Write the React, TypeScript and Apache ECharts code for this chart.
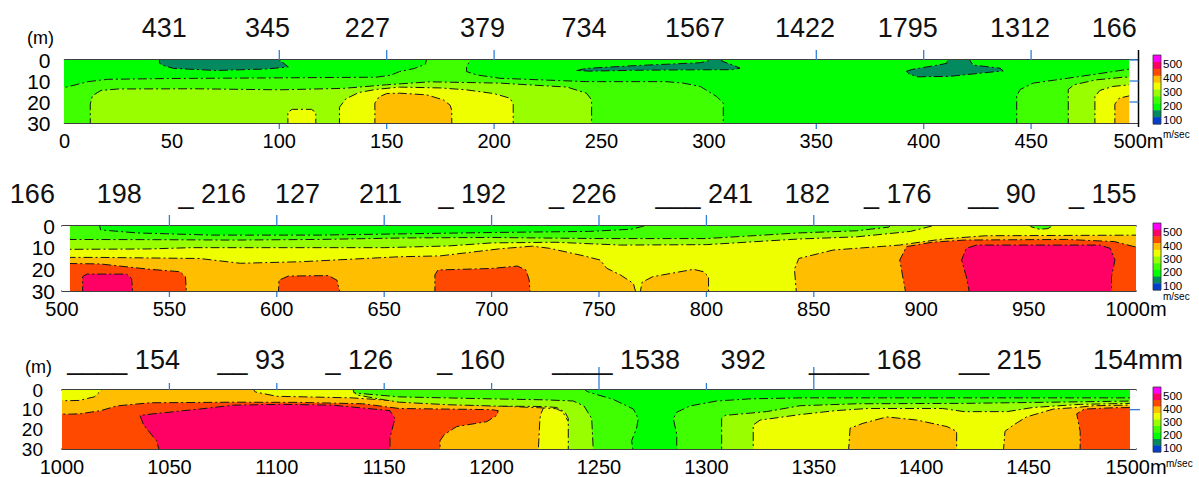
import React, { useEffect, useRef } from "react";
import * as echarts from "echarts";

type Pt = [number, number];
type Region = [number | null, Pt[]];

// ---------- DATA ----------
// velocity classes (m/sec): 125 teal, 175 green, 225 light green, 275 yellow-green, 325 yellow, 375 orange, 425 red, 475 pink
const VEL_BREAKS = [500, 450, 400, 350, 300, 250, 200, 150, 100];
const LEGEND_TICKS = ["500", "400", "300", "200", "100"];

const P1_RANGE = [0, 500];
const P2_RANGE = [500, 1000];
const P3_RANGE = [1000, 1500];
const DEPTH_RANGE = [0, 30];
const DEPTH_TICKS = [0, 10, 20, 30];

const P1_TOP_LABELS = ["431", "345", "227", "379", "734", "1567", "1422", "1795", "1312", "166"];
const P1_TOP_LABEL_AT = [56.9, 105, 151.5, 205.1, 252.4, 307.5, 358.7, 406.6, 458.8, 499.2];
const P2_TOP_LABELS = ["166", "198", "_ 216", "127", "211", "_ 192", "_ 226", "___ 241", "182", "_ 176", "__ 90", "_ 155"];
const P2_TOP_LABEL_AT = [496.7, 537.1, 585.7, 620.1, 658.3, 706.7, 758.2, 821.7, 857.5, 904.8, 953.4, 1000.3];
const P3_TOP_LABELS = ["____ 154", "__ 93", "_ 126", "_ 160", "____ 1538", "392", "____ 168", "__ 215", "154mm"];
const P3_TOP_LABEL_AT = [1054.9, 1103.8, 1154.1, 1206.2, 1287.7, 1327.6, 1400.2, 1456.1, 1521.9];

const P1_TICKS = [100, 150, 200, 350, 400, 450];
const P2_TICKS = [550, 600, 650, 700, 750, 800, 850];
const P3_TICKS = [1050, 1100, 1150, 1200, 1250, 1300, 1350];
const P3_LONG_TICKS = [1250, 1350];
const P1_RIGHT_TICKS = [0, 10, 20];
const P3_RIGHT_TICKS = [10];

const P1_REGIONS: Region[] = [
  [175, [[-5, -2], [505, -2], [505, 32], [-5, 32]]],
  [225, [[-5, 13.5], [1, 12.9], [11, 10.3], [20, 9.2], [50, 8.8], [100, 8.5], [145, 8.2], [152, 7.2], [156, 5.5], [163, 4], [168, 2], [169, -2], [190.3, -2], [187.2, 3], [187.2, 5.5], [191.9, 7.1], [202.7, 8.7], [243, 10.3], [280, 10.3], [288, 11], [296, 12.6], [303.6, 17.4], [306.7, 20.5], [306.7, 32], [-5, 32]]],
  [225, [[443.3, 32], [443.3, 17], [445, 14], [451, 11], [467, 8.7], [483, 6.3], [496, 4.3], [505, 4], [505, 32]]],
  [275, [[12, 32], [12, 21], [13, 17], [17, 14.5], [25, 13.8], [60, 13.7], [100, 14.2], [130, 13.5], [150, 11.8], [170, 10.4], [202.5, 11], [234, 12.9], [243, 15.8], [245.4, 19], [245.4, 32]]],
  [275, [[467.3, 32], [467.3, 14], [470, 11.8], [480, 9.5], [493, 8.2], [505, 8], [505, 32]]],
  [325, [[104, 32], [104, 24.8], [106, 23.5], [115, 23.5], [117, 25], [117, 32]]],
  [325, [[128, 32], [128, 22.5], [131, 18.5], [137, 15.5], [145, 14], [156, 12.9], [175, 13.3], [187, 14.2], [200, 16], [207.4, 18.2], [208.9, 21], [208.9, 32]]],
  [325, [[479.7, 32], [479.7, 17.4], [482, 14.5], [488, 12.6], [496, 11.8], [505, 11.8], [505, 32]]],
  [375, [[144.5, 32], [144.5, 20.5], [146.5, 17.5], [150, 16], [156, 15.8], [168.6, 16.6], [176.4, 19], [179.5, 21.5], [180.3, 24], [180.3, 32]]],
  [375, [[489, 32], [489, 21], [491, 18.2], [496, 17], [505, 17], [505, 32]]],
  [125, [[44.2, -2], [44.2, 1.5], [46, 2.6], [50.7, 4], [70.6, 5], [94, 4.3], [104.2, 3.3], [102, 1.5], [100.3, 0.5], [100.3, -2]]],
  [125, [[238.4, 5], [243, 4], [265, 2.7], [296, 1.3], [300, 0.3], [300, -2], [306, -2], [306, 0.5], [311.4, 2.5], [314.5, 3.9], [311, 4.6], [290, 4.7], [265, 4.9], [245, 5.3]]],
  [125, [[392, 5.3], [395, 4.4], [405, 2.7], [410.7, 1.6], [411.5, -2], [420, -2], [423, 2.4], [435.5, 3.9], [437, 5.2], [429, 6], [412, 7.8], [397, 8], [393, 6.5]]],
  [null, [[495.7, -2], [505, -2], [505, 32], [495.7, 32]]],
];

const P2_REGIONS: Region[] = [
  [375, [[495, -2], [1005, -2], [1005, 32], [495, 32]]],
  [425, [[495, 17.2], [517.7, 17.5], [541, 20], [555, 21.1], [557.5, 23.5], [558, 32], [495, 32]]],
  [425, [[600.7, 32], [601, 25], [605.4, 23.1], [624, 22.9], [628, 25], [629.7, 32]]],
  [425, [[673.6, 32], [673.6, 22.6], [675, 20.3], [700, 19.6], [712, 18.5], [716, 20.3], [717.5, 24.9], [718, 32]]],
  [425, [[893, 32], [892, 26.5], [890, 15.7], [893.2, 9.5], [905, 7.5], [920, 6.5], [967.7, 6.2], [990, 7.2], [999, 9.5], [1005, 10.3], [1005, 32]]],
  [475, [[509.6, 32], [509.6, 23.4], [511.5, 22.2], [530, 22.2], [532.4, 24.2], [533, 32]]],
  [475, [[922.7, 32], [921, 23.4], [918.8, 15.7], [921, 10.3], [925.8, 8.8], [983, 8.8], [988, 10.3], [990.2, 15.7], [988.6, 23.4], [988.6, 32]]],
  [325, [[495, -2], [495, 14.5], [518, 14.5], [564, 15], [583, 17.2], [611, 16.5], [657, 14.2], [676, 13.8], [704, 10.5], [719, 9.3], [727, 10.3], [743, 13.8], [750.5, 15.7], [753.6, 19.5], [760, 22.6], [766, 26.5], [767.5, 32], [842, 32], [841, 20], [843, 15], [859, 11.1], [890, 8.8], [910, 6], [930, 4.5], [1005, 4.2], [1005, -2]]],
  [375, [[769, 32], [770, 26], [775, 23.4], [794, 20], [798.6, 21.1], [801, 23.4], [801, 32]]],
  [275, [[495, -2], [495, 10.8], [540, 10.6], [560, 10], [600, 10], [650, 10], [680, 9.2], [700, 7.8], [730, 7.5], [760, 8.8], [800, 8.6], [843, 6], [870, 5], [895, 2.5], [905, 0], [907, -2]]],
  [225, [[495, -2], [495, 6.2], [540, 6.3], [580, 6.5], [620, 6.2], [660, 5.5], [700, 5.3], [750, 5.8], [800, 5.8], [843, 3.2], [870, 2.2], [885, 0.5], [887, -2]]],
  [225, [[951, -2], [951, 0.3], [955, 1.5], [959, 1.2], [961, 0], [961, -2]]],
  [175, [[517, -2], [518, 1.8], [535, 3.2], [570, 4.2], [620, 4.2], [660, 3.6], [700, 3], [745, 2.5], [765, 1.5], [771, 0], [773, -2]]],
  [null, [[495, -2], [503.7, -2], [503.7, 32], [495, 32]]],
];

const P3_REGIONS: Region[] = [
  [325, [[995, -2], [1505, -2], [1505, 32], [995, 32]]],
  [375, [[995, -2], [1230, -2], [1224, 9.5], [1223, 12], [1222.5, 14.5], [1221.7, 32], [995, 32]]],
  [375, [[1366.1, 32], [1366.9, 19.4], [1373, 16.9], [1384, 13.7], [1398, 15.3], [1412, 18.6], [1416.5, 21], [1416.5, 32]]],
  [375, [[1438.2, 32], [1439, 21], [1443, 17.8], [1449, 13.7], [1461.5, 9.7], [1472.4, 8.9], [1480, 8], [1505, 7.5], [1505, 32]]],
  [425, [[995, 12], [1003, 12.3], [1008.4, 12.1], [1018, 10.5], [1025.5, 8.1], [1041, 6.5], [1080, 6.2], [1110, 6.3], [1140, 7], [1157, 9.4], [1200, 10], [1203.1, 10.5], [1202.4, 12.9], [1197.7, 16.1], [1183.8, 18.6], [1178, 22.6], [1176, 25.8], [1176, 32], [995, 32]]],
  [425, [[1474, 32], [1474, 21], [1472.4, 12.1], [1476, 9.7], [1490, 9], [1505, 8.9], [1505, 32]]],
  [475, [[1045.6, 32], [1044, 25.8], [1038, 17.8], [1036.3, 13], [1042.5, 12.1], [1064, 9.7], [1080, 7.7], [1103, 7.3], [1126, 7.7], [1152.7, 10.5], [1155, 14.5], [1152.7, 24.2], [1152.7, 32]]],
  [325, [[995, -2], [995, 5.6], [1008, 5.3], [1015, 3.5], [1018.5, 0], [1019, -2]]],
  [325, [[1088, -2], [1090, 1], [1100, 3.2], [1135, 4], [1160, 5.8], [1200, 8], [1222, 9], [1230, 9.5], [1233, 11], [1235.7, 16], [1240, 16], [1240, -2]]],
  [275, [[1135, -2], [1137, 2.5], [1150, 5], [1157, 6.2], [1180, 7.5], [1203, 8.2], [1224, 8.4], [1230.3, 8.9], [1234.2, 11.3], [1235.7, 14.5], [1235.7, 32], [1321.8, 32], [1321.8, 17.8], [1325, 15.3], [1343.6, 12.5], [1360, 10.5], [1375, 9.4], [1410, 9.4], [1420, 11], [1440, 11], [1452, 8.9], [1474, 7.3], [1497, 6.8], [1505, 6.8], [1505, -2]]],
  [225, [[1135, -2], [1136, 1.5], [1157, 3.5], [1200, 4.5], [1225, 5], [1238, 5.6], [1243, 8.1], [1246.6, 14.5], [1247.4, 32], [1307.1, 32], [1307.1, 14.5], [1308.7, 12.9], [1328, 11], [1343.6, 8], [1370, 7], [1420, 6.8], [1474, 6], [1505, 5.5], [1505, -2]]],
  [175, [[1243.5, -2], [1243.5, 0], [1245, 1], [1256.7, 4.8], [1266, 9.7], [1268.3, 14.5], [1267.5, 19.4], [1265.2, 25.8], [1266, 32], [1286.2, 32], [1286.2, 22.6], [1284.6, 14.5], [1286.2, 11.3], [1292.4, 8.1], [1304.8, 5.6], [1320.3, 4.5], [1343.6, 4], [1420, 4], [1505, 4], [1505, -2]]],
  [null, [[1497.2, -2], [1505, -2], [1505, 32], [1497.2, 32]]],
];

// ---------- STYLE ----------
const PALETTE = ["#ff00ff", "#ff0064", "#ff4800", "#ffbe00", "#eeff00", "#99ff00", "#40ff00", "#00ff00", "#038a5e", "#0040d0"];
const FONT = "'Liberation Sans', Arial, sans-serif";
const TICK_BLUE = "#2f7fd8";

const colorFor = (v: number) => {
  const i = VEL_BREAKS.findIndex((b) => v >= b);
  return PALETTE[i < 0 ? PALETTE.length - 1 : i];
};

const PANELS = [
  { range: P1_RANGE, regions: P1_REGIONS, labels: P1_TOP_LABELS, labelAt: P1_TOP_LABEL_AT, ticks: P1_TICKS, longTicks: [] as number[],
    left: 64.5, top: 60, height: 63, yMargin: 14, yFont: 21, labelGap: 32.5, tickLen: 10, bottomTick: 5, legendTop: 55, legendH: 69, unitX: 1163, unitY: 134, mLabel: [27, 38] },
  { range: P2_RANGE, regions: P2_REGIONS, labels: P2_TOP_LABELS, labelAt: P2_TOP_LABEL_AT, ticks: P2_TICKS, longTicks: [] as number[],
    left: 62, top: 226, height: 65, yMargin: 7, yFont: 21, labelGap: 32, tickLen: 11, bottomTick: 5, legendTop: 223, legendH: 67, unitX: 1163, unitY: 296, mLabel: null },
  { range: P3_RANGE, regions: P3_REGIONS, labels: P3_TOP_LABELS, labelAt: P3_TOP_LABEL_AT, ticks: P3_TICKS, longTicks: P3_LONG_TICKS,
    left: 62, top: 390, height: 62, yMargin: 19, yFont: 19, labelGap: 30, tickLen: 7, bottomTick: 0, legendTop: 387, legendH: 65, unitX: 1166, unitY: 463, mLabel: [25, 367] },
];

function buildOption() {
  const grid: any[] = [];
  const xAxis: any[] = [];
  const yAxis: any[] = [];
  const series: any[] = [];
  const graphic: any[] = [];

  PANELS.forEach((p, i) => {
    grid.push({ left: p.left, top: p.top, width: 1074, height: p.height });
    const max = p.range[1];
    xAxis.push({
      type: "value", gridIndex: i, min: p.range[0], max, interval: 50, position: "bottom",
      axisLine: { show: true, onZero: false, lineStyle: { color: "#000", width: 1.5 } },
      axisTick: { show: false }, splitLine: { show: false },
      axisLabel: { color: "#000", fontSize: 20, fontFamily: FONT, margin: 8, showMinLabel: true, showMaxLabel: true,
        formatter: (v: number) => (v === max ? v + "m" : String(v)) },
    });
    yAxis.push({
      type: "value", gridIndex: i, min: DEPTH_RANGE[0], max: DEPTH_RANGE[1], interval: 10, inverse: true,
      axisLine: { show: false }, axisTick: { show: false }, splitLine: { show: false }, axisLabel: { show: false },
    });
  });
  PANELS.forEach((p, i) => {
    xAxis.push({
      type: "value", gridIndex: i, min: p.range[0], max: p.range[1], position: "top",
      axisLine: { show: true, onZero: false, lineStyle: { color: "#000", width: 1.5 } },
      axisTick: { show: false }, axisLabel: { show: false }, splitLine: { show: false },
    });
  });

  PANELS.forEach((p, i) => {
    const regions = p.regions;
    series.push({
      type: "custom", xAxisIndex: i, yAxisIndex: i, clip: true, silent: true,
      data: regions.map((r, k) => [r[1][0][0], r[1][0][1], k]),
      encode: { x: 0, y: 1 },
      renderItem: (_params: any, api: any) => {
        const r = regions[api.value(2) as number];
        const points = r[1].map((pt) => api.coord(pt));
        const blank = r[0] == null;
        return {
          type: "polygon", shape: { points },
          style: { fill: blank ? "#ffffff" : colorFor(r[0] as number), stroke: blank ? null : "#141414", lineWidth: 1, lineDash: [9, 3, 2, 3] },
        };
      },
    });
    // depth labels (left)
    series.push({
      type: "custom", xAxisIndex: i, yAxisIndex: i, clip: false, silent: true,
      data: DEPTH_TICKS.map((d) => [p.range[0], d]),
      encode: { x: 0, y: 1 },
      renderItem: (_params: any, api: any) => {
        const c = api.coord([api.value(0), api.value(1)]);
        return {
          type: "text", x: c[0] - p.yMargin, y: c[1],
          style: { text: String(api.value(1)), fontSize: p.yFont, fontFamily: FONT, fill: "#000", align: "right", verticalAlign: "middle" },
        };
      },
    });
    // ticks
    series.push({
      type: "custom", xAxisIndex: i, yAxisIndex: i, clip: false, silent: true,
      data: p.ticks.map((m) => [m, 0]),
      encode: { x: 0, y: 1 },
      renderItem: (_params: any, api: any) => {
        const m = api.value(0) as number;
        const t = api.coord([m, DEPTH_RANGE[0]]);
        const b = api.coord([m, DEPTH_RANGE[1]]);
        const len = p.longTicks.includes(m) ? 23 : p.tickLen;
        const children: any[] = [
          { type: "line", shape: { x1: t[0], y1: t[1] - len, x2: t[0], y2: t[1] }, style: { stroke: TICK_BLUE, lineWidth: 1.3 } },
        ];
        if (p.bottomTick > 0) {
          children.push({ type: "line", shape: { x1: b[0], y1: b[1] + 1, x2: b[0], y2: b[1] + 1 + p.bottomTick }, style: { stroke: TICK_BLUE, lineWidth: 1.3 } });
        }
        return { type: "group", children };
      },
    });
    // top labels
    series.push({
      type: "custom", xAxisIndex: i, yAxisIndex: i, clip: false, silent: true,
      data: p.labelAt.map((m, k) => [m, k]),
      encode: { x: 0, y: 1 },
      renderItem: (_params: any, api: any) => {
        const k = api.value(1) as number;
        const c = api.coord([api.value(0), DEPTH_RANGE[0]]);
        return {
          type: "text", x: c[0], y: c[1] - p.labelGap,
          style: { text: p.labels[k], fontSize: 27, fontFamily: FONT, fill: "#111", align: "right", verticalAlign: "middle" },
        };
      },
    });
  });

  // right axis of panel 1
  series.push({
    type: "custom", xAxisIndex: 0, yAxisIndex: 0, clip: false, silent: true,
    data: P1_RIGHT_TICKS.map((d) => [P1_RANGE[1], d]),
    encode: { x: 0, y: 1 },
    renderItem: (params: any, api: any) => {
      const c = api.coord([api.value(0), api.value(1)]);
      const children: any[] = [
        { type: "line", shape: { x1: c[0] - 9, y1: c[1], x2: c[0], y2: c[1] }, style: { stroke: TICK_BLUE, lineWidth: 1.3 } },
      ];
      if (params.dataIndex === 0) {
        const t = api.coord([P1_RANGE[1], DEPTH_RANGE[0]]);
        const b = api.coord([P1_RANGE[1], DEPTH_RANGE[1]]);
        children.push({ type: "line", shape: { x1: t[0], y1: t[1] - 10, x2: t[0], y2: b[1] + 4 }, style: { stroke: "#000", lineWidth: 1.5 } });
      }
      return { type: "group", children };
    },
  });
  // right tick of panel 3
  series.push({
    type: "custom", xAxisIndex: 2, yAxisIndex: 2, clip: false, silent: true,
    data: P3_RIGHT_TICKS.map((d) => [P3_RANGE[1], d]),
    encode: { x: 0, y: 1 },
    renderItem: (_params: any, api: any) => {
      const c = api.coord([api.value(0), api.value(1)]);
      return { type: "line", shape: { x1: c[0] - 6, y1: c[1], x2: c[0] + 4, y2: c[1] }, style: { stroke: TICK_BLUE, lineWidth: 1.3 } };
    },
  });

  // legends
  PANELS.forEach((p) => {
    const bh = p.legendH / PALETTE.length;
    PALETTE.forEach((col, k) => {
      graphic.push({ type: "rect", silent: true, shape: { x: 1153, y: p.legendTop + k * bh, width: 8, height: bh + 0.4 }, style: { fill: col } });
    });
    graphic.push({ type: "rect", silent: true, shape: { x: 1153, y: p.legendTop, width: 8, height: p.legendH }, style: { fill: null, stroke: "#333", lineWidth: 0.8 } });
    LEGEND_TICKS.forEach((t, k) => {
      graphic.push({ type: "text", silent: true, x: 1163, y: p.legendTop + (2 * k + 1) * bh + 2.5,
        style: { text: t, fontSize: 11.5, fontFamily: FONT, fill: "#000", verticalAlign: "middle" } });
    });
    graphic.push({ type: "text", silent: true, x: p.unitX, y: p.unitY,
      style: { text: "m/sec", fontSize: 10, fontFamily: FONT, fill: "#000", verticalAlign: "middle" } });
    if (p.mLabel) {
      graphic.push({ type: "text", silent: true, x: p.mLabel[0], y: p.mLabel[1],
        style: { text: "(m)", fontSize: 18, fontFamily: FONT, fill: "#000", verticalAlign: "middle" } });
    }
  });

  return {
    animation: false,
    backgroundColor: "#ffffff",
    textStyle: { fontFamily: FONT },
    grid, xAxis, yAxis, series, graphic,
  };
}

export default function App() {
  const ref = useRef<HTMLDivElement>(null);
  useEffect(() => {
    const chart = echarts.init(ref.current!, undefined, { renderer: "svg" });
    chart.setOption(buildOption() as any);
    return () => chart.dispose();
  }, []);
  return <div ref={ref} style={{ position: "absolute", left: 0, top: 0, width: 1199, height: 477 }} />;
}
